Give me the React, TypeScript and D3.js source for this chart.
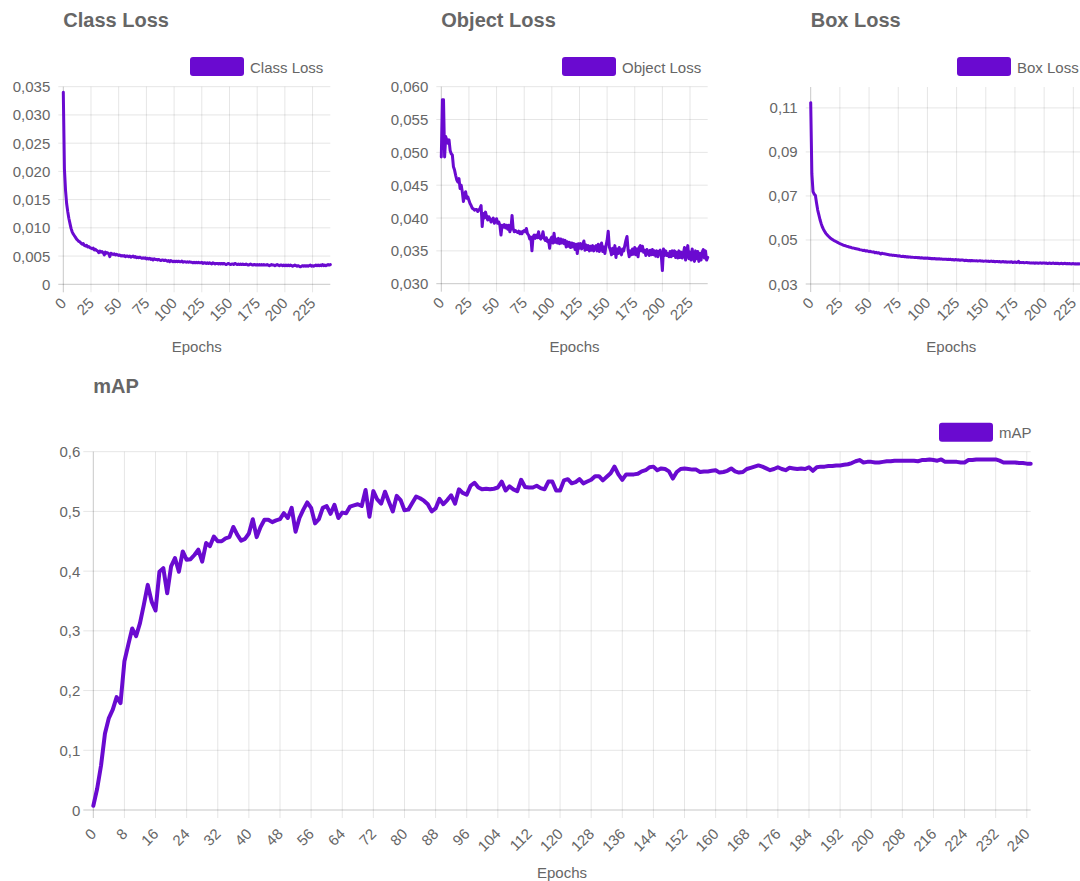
import React from "react";
import * as d3 from "d3";

// ---------- DATA (one value per epoch, epochs 0..241) ----------
const classLoss: number[] = [
  0.0340, 0.0205, 0.0167, 0.0143, 0.0129, 0.0117, 0.0108, 0.0099, 0.0093, 0.0089,
  0.0086, 0.0083, 0.0080, 0.0078, 0.0076, 0.0075, 0.0073, 0.0071, 0.0072, 0.0069,
  0.0068, 0.0069, 0.0066, 0.0067, 0.0065, 0.0064, 0.0063, 0.0064, 0.0061, 0.0062,
  0.0060, 0.0059, 0.0056, 0.0059, 0.0057, 0.0058, 0.0056, 0.0052, 0.0057, 0.0055,
  0.0056, 0.0054, 0.0049, 0.0055, 0.0054, 0.0053, 0.0054, 0.0052, 0.0053, 0.0052,
  0.0051, 0.0052, 0.0050, 0.0051, 0.0050, 0.0051, 0.0049, 0.0050, 0.0050, 0.0049,
  0.0050, 0.0048, 0.0049, 0.0050, 0.0048, 0.0049, 0.0047, 0.0048, 0.0047, 0.0048,
  0.0047, 0.0046, 0.0047, 0.0046, 0.0047, 0.0045, 0.0046, 0.0045, 0.0046, 0.0044,
  0.0045, 0.0043, 0.0045, 0.0044, 0.0044, 0.0043, 0.0044, 0.0043, 0.0042, 0.0043,
  0.0043, 0.0042, 0.0043, 0.0042, 0.0041, 0.0042, 0.0040, 0.0042, 0.0041, 0.0040,
  0.0041, 0.0040, 0.0041, 0.0040, 0.0041, 0.0040, 0.0040, 0.0041, 0.0039, 0.0040,
  0.0040, 0.0039, 0.0040, 0.0039, 0.0040, 0.0039, 0.0039, 0.0038, 0.0039, 0.0038,
  0.0039, 0.0038, 0.0039, 0.0038, 0.0038, 0.0039, 0.0037, 0.0038, 0.0038, 0.0037,
  0.0038, 0.0037, 0.0038, 0.0037, 0.0036, 0.0038, 0.0037, 0.0036, 0.0037, 0.0037,
  0.0036, 0.0037, 0.0036, 0.0037, 0.0036, 0.0037, 0.0036, 0.0035, 0.0036, 0.0037,
  0.0036, 0.0035, 0.0036, 0.0036, 0.0035, 0.0037, 0.0036, 0.0035, 0.0036, 0.0035,
  0.0036, 0.0035, 0.0036, 0.0035, 0.0035, 0.0036, 0.0035, 0.0034, 0.0035, 0.0036,
  0.0035, 0.0034, 0.0035, 0.0035, 0.0034, 0.0035, 0.0034, 0.0035, 0.0034, 0.0035,
  0.0034, 0.0035, 0.0034, 0.0034, 0.0035, 0.0034, 0.0033, 0.0034, 0.0035, 0.0034,
  0.0034, 0.0033, 0.0034, 0.0035, 0.0034, 0.0033, 0.0034, 0.0034, 0.0033, 0.0034,
  0.0033, 0.0034, 0.0033, 0.0034, 0.0033, 0.0034, 0.0033, 0.0032, 0.0033, 0.0034,
  0.0033, 0.0032, 0.0033, 0.0032, 0.0031, 0.0032, 0.0033, 0.0032, 0.0033, 0.0032,
  0.0033, 0.0032, 0.0033, 0.0034, 0.0032, 0.0033, 0.0032, 0.0033, 0.0034, 0.0033,
  0.0034, 0.0033, 0.0034, 0.0033, 0.0035, 0.0033, 0.0034, 0.0033, 0.0034, 0.0035,
  0.0034, 0.0035,
];

const objectLoss: number[] = [
  0.0493, 0.0580, 0.0580, 0.0493, 0.0524, 0.0519, 0.0514, 0.0519, 0.0503, 0.0498,
  0.0496, 0.0478, 0.0473, 0.0465, 0.0458, 0.0455, 0.0460, 0.0445, 0.0450, 0.0440,
  0.0425, 0.0435, 0.0440, 0.0430, 0.0432, 0.0427, 0.0422, 0.0419, 0.0415, 0.0414,
  0.0412, 0.0413, 0.0413, 0.0410, 0.0412, 0.0415, 0.0419, 0.0387, 0.0407, 0.0400,
  0.0409, 0.0402, 0.0397, 0.0402, 0.0399, 0.0394, 0.0397, 0.0400, 0.0392, 0.0395,
  0.0399, 0.0392, 0.0394, 0.0389, 0.0374, 0.0389, 0.0386, 0.0390, 0.0385, 0.0389,
  0.0383, 0.0389, 0.0379, 0.0384, 0.0404, 0.0384, 0.0379, 0.0381, 0.0379, 0.0378,
  0.0380, 0.0376, 0.0379, 0.0376, 0.0380, 0.0381, 0.0379, 0.0384, 0.0376, 0.0374,
  0.0368, 0.0371, 0.0350, 0.0371, 0.0374, 0.0369, 0.0374, 0.0370, 0.0379, 0.0370,
  0.0368, 0.0371, 0.0379, 0.0369, 0.0366, 0.0370, 0.0364, 0.0366, 0.0354, 0.0368,
  0.0371, 0.0362, 0.0377, 0.0363, 0.0368, 0.0362, 0.0369, 0.0361, 0.0368, 0.0362,
  0.0367, 0.0361, 0.0366, 0.0356, 0.0364, 0.0357, 0.0363, 0.0355, 0.0362, 0.0356,
  0.0361, 0.0352, 0.0360, 0.0346, 0.0361, 0.0354, 0.0361, 0.0353, 0.0360, 0.0365,
  0.0351, 0.0359, 0.0352, 0.0358, 0.0350, 0.0357, 0.0351, 0.0358, 0.0350, 0.0356,
  0.0358, 0.0350, 0.0360, 0.0349, 0.0357, 0.0362, 0.0349, 0.0356, 0.0346, 0.0358,
  0.0366, 0.0380, 0.0356, 0.0351, 0.0344, 0.0354, 0.0346, 0.0358, 0.0340, 0.0353,
  0.0346, 0.0355, 0.0347, 0.0344, 0.0353, 0.0350, 0.0358, 0.0366, 0.0372, 0.0351,
  0.0341, 0.0350, 0.0344, 0.0353, 0.0345, 0.0355, 0.0344, 0.0353, 0.0341, 0.0355,
  0.0358, 0.0350, 0.0357, 0.0348, 0.0351, 0.0343, 0.0352, 0.0349, 0.0343, 0.0351,
  0.0344, 0.0352, 0.0344, 0.0350, 0.0342, 0.0350, 0.0341, 0.0349, 0.0351, 0.0343,
  0.0320, 0.0353, 0.0343, 0.0350, 0.0343, 0.0346, 0.0341, 0.0349, 0.0341, 0.0350,
  0.0343, 0.0350, 0.0340, 0.0348, 0.0339, 0.0350, 0.0340, 0.0348, 0.0339, 0.0346,
  0.0355, 0.0336, 0.0350, 0.0358, 0.0338, 0.0348, 0.0336, 0.0353, 0.0340, 0.0334,
  0.0350, 0.0338, 0.0349, 0.0334, 0.0346, 0.0336, 0.0348, 0.0352, 0.0339, 0.0350,
  0.0336, 0.0340,
];

const boxLoss: number[] = [
  0.1124, 0.0800, 0.0720, 0.0708, 0.0703, 0.0668, 0.0636, 0.0614, 0.0592, 0.0574,
  0.0559, 0.0548, 0.0539, 0.0530, 0.0524, 0.0518, 0.0513, 0.0508, 0.0504, 0.0501,
  0.0497, 0.0495, 0.0492, 0.0489, 0.0486, 0.0483, 0.0481, 0.0479, 0.0476, 0.0475,
  0.0473, 0.0471, 0.0470, 0.0468, 0.0467, 0.0465, 0.0464, 0.0463, 0.0461, 0.0460,
  0.0459, 0.0458, 0.0456, 0.0455, 0.0454, 0.0452, 0.0453, 0.0450, 0.0451, 0.0449,
  0.0447, 0.0449, 0.0446, 0.0445, 0.0446, 0.0442, 0.0444, 0.0441, 0.0442, 0.0440,
  0.0436, 0.0440, 0.0438, 0.0437, 0.0436, 0.0435, 0.0434, 0.0433, 0.0432, 0.0432,
  0.0430, 0.0431, 0.0429, 0.0430, 0.0428, 0.0427, 0.0428, 0.0426, 0.0425, 0.0426,
  0.0424, 0.0425, 0.0423, 0.0424, 0.0422, 0.0423, 0.0421, 0.0422, 0.0421, 0.0420,
  0.0421, 0.0420, 0.0419, 0.0420, 0.0418, 0.0419, 0.0418, 0.0417, 0.0418, 0.0417,
  0.0418, 0.0416, 0.0417, 0.0415, 0.0416, 0.0415, 0.0416, 0.0414, 0.0415, 0.0414,
  0.0415, 0.0413, 0.0414, 0.0412, 0.0413, 0.0412, 0.0413, 0.0411, 0.0412, 0.0411,
  0.0412, 0.0410, 0.0411, 0.0409, 0.0411, 0.0410, 0.0409, 0.0410, 0.0408, 0.0409,
  0.0409, 0.0408, 0.0406, 0.0408, 0.0407, 0.0406, 0.0407, 0.0405, 0.0407, 0.0406,
  0.0406, 0.0405, 0.0406, 0.0404, 0.0405, 0.0406, 0.0404, 0.0405, 0.0403, 0.0404,
  0.0405, 0.0403, 0.0404, 0.0402, 0.0403, 0.0404, 0.0402, 0.0403, 0.0401, 0.0402,
  0.0402, 0.0401, 0.0402, 0.0400, 0.0401, 0.0402, 0.0400, 0.0401, 0.0399, 0.0400,
  0.0400, 0.0399, 0.0401, 0.0398, 0.0399, 0.0400, 0.0398, 0.0399, 0.0403, 0.0397,
  0.0398, 0.0397, 0.0398, 0.0396, 0.0397, 0.0398, 0.0396, 0.0397, 0.0395, 0.0396,
  0.0395, 0.0396, 0.0394, 0.0396, 0.0395, 0.0394, 0.0395, 0.0396, 0.0394, 0.0395,
  0.0395, 0.0394, 0.0395, 0.0393, 0.0394, 0.0395, 0.0393, 0.0394, 0.0395, 0.0393,
  0.0394, 0.0393, 0.0394, 0.0392, 0.0393, 0.0394, 0.0392, 0.0393, 0.0394, 0.0392,
  0.0393, 0.0392, 0.0393, 0.0391, 0.0392, 0.0393, 0.0391, 0.0392, 0.0391, 0.0392,
  0.0391, 0.0392, 0.0390, 0.0391, 0.0392, 0.0390, 0.0391, 0.0390, 0.0391, 0.0390,
  0.0389, 0.0390,
];

const mAP: number[] = [
  0.007, 0.036, 0.075, 0.128, 0.154, 0.168, 0.189, 0.179, 0.249, 0.277,
  0.304, 0.291, 0.313, 0.344, 0.377, 0.349, 0.334, 0.399, 0.405, 0.363,
  0.408, 0.422, 0.399, 0.433, 0.419, 0.420, 0.427, 0.436, 0.416, 0.447,
  0.442, 0.458, 0.450, 0.450, 0.455, 0.457, 0.474, 0.461, 0.451, 0.454,
  0.463, 0.487, 0.457, 0.474, 0.486, 0.486, 0.482, 0.485, 0.487, 0.497,
  0.489, 0.506, 0.466, 0.489, 0.503, 0.515, 0.506, 0.480, 0.487, 0.506,
  0.509, 0.496, 0.511, 0.489, 0.498, 0.497, 0.508, 0.510, 0.512, 0.509,
  0.536, 0.491, 0.534, 0.520, 0.513, 0.533, 0.516, 0.500, 0.526, 0.519,
  0.502, 0.503, 0.514, 0.525, 0.522, 0.518, 0.512, 0.500, 0.505, 0.521,
  0.512, 0.519, 0.527, 0.513, 0.537, 0.531, 0.528, 0.543, 0.548, 0.540,
  0.537, 0.538, 0.537, 0.538, 0.540, 0.550, 0.535, 0.542, 0.537, 0.534,
  0.553, 0.541, 0.540, 0.540, 0.543, 0.539, 0.537, 0.550, 0.550, 0.535,
  0.535, 0.552, 0.554, 0.547, 0.549, 0.554, 0.547, 0.550, 0.553, 0.559,
  0.559, 0.552, 0.558, 0.564, 0.575, 0.562, 0.553, 0.562, 0.562, 0.562,
  0.563, 0.567, 0.569, 0.574, 0.575, 0.569, 0.572, 0.571, 0.567, 0.555,
  0.566, 0.571, 0.572, 0.571, 0.570, 0.570, 0.566, 0.567, 0.567, 0.568,
  0.569, 0.565, 0.566, 0.568, 0.572, 0.567, 0.565, 0.566, 0.571, 0.573,
  0.575, 0.577, 0.575, 0.572, 0.569, 0.571, 0.574, 0.571, 0.569, 0.573,
  0.572, 0.571, 0.572, 0.571, 0.574, 0.568, 0.574, 0.575, 0.575, 0.576,
  0.576, 0.577, 0.577, 0.578, 0.579, 0.581, 0.584, 0.586, 0.582, 0.583,
  0.583, 0.582, 0.582, 0.583, 0.584, 0.584, 0.585, 0.585, 0.585, 0.585,
  0.585, 0.585, 0.584, 0.586, 0.586, 0.587, 0.586, 0.585, 0.587, 0.583,
  0.583, 0.583, 0.583, 0.582, 0.582, 0.586, 0.586, 0.587, 0.587, 0.587,
  0.587, 0.587, 0.587, 0.585, 0.582, 0.582, 0.582, 0.582, 0.581, 0.581,
  0.580, 0.580,
];

// tick values
const lossXTicks = [0, 25, 50, 75, 100, 125, 150, 175, 200, 225];
const mapXTicks = [0, 8, 16, 24, 32, 40, 48, 56, 64, 72, 80, 88, 96, 104, 112, 120, 128, 136, 144, 152, 160, 168, 176, 184, 192, 200, 208, 216, 224, 232, 240];
const classYTicks = [0, 0.005, 0.01, 0.015, 0.02, 0.025, 0.03, 0.035];
const objectYTicks = [0.03, 0.035, 0.04, 0.045, 0.05, 0.055, 0.06];
const boxYTicks = [0.03, 0.05, 0.07, 0.09, 0.11];
const mapYTicks = [0, 0.1, 0.2, 0.3, 0.4, 0.5, 0.6];

const FONT = "'Liberation Sans', Arial, Helvetica, sans-serif";
const LINE_COLOR = "#6a0ad0";
const TEXT = "#666";
const GRID = "rgba(0,0,0,0.1)";
const AXIS = "rgba(0,0,0,0.22)";

const comma = (f: (n: number) => string) => (v: number) => f(v).replace(".", ",");

type ChartProps = {
  title: string;
  label: string;
  values: number[];
  left: number;
  right: number;
  top: number;
  bottom: number;
  yDomain: [number, number];
  yTicks: number[];
  xTicks: number[];
  yFmt: (v: number) => string;
  titleY: number;
  legendX: number;
  legendY: number;
  lineWidth: number;
  xLabelOffset: number;
  epochsY: number;
  yTickLen: number;
};

function LineChart(p: ChartProps) {
  const x = d3.scaleLinear().domain([0, p.values.length - 1]).range([p.left, p.right]);
  const y = d3.scaleLinear().domain(p.yDomain).range([p.bottom, p.top]);
  const line = d3
    .line<number>()
    .x((_, i) => x(i))
    .y((d) => y(d))
    .curve(d3.curveLinear);
  const yMin = p.yTicks[0];
  return (
    <g fontFamily={FONT}>
      <text x={p.left} y={p.titleY} fontSize={20} fontWeight="bold" fill={TEXT}>
        {p.title}
      </text>
      <rect x={p.legendX} y={p.legendY} width={54} height={19} rx={3} fill={LINE_COLOR} />
      <text x={p.legendX + 60} y={p.legendY + 10} fontSize={15} fill={TEXT} dominantBaseline="central">
        {p.label}
      </text>
      {p.yTicks.map((t) => (
        <line
          key={"h" + t}
          x1={p.left - p.yTickLen}
          x2={p.right}
          y1={y(t)}
          y2={y(t)}
          stroke={t === yMin ? AXIS : GRID}
          strokeWidth={1}
        />
      ))}
      {p.xTicks.map((t) => (
        <line
          key={"v" + t}
          x1={x(t)}
          x2={x(t)}
          y1={p.top}
          y2={p.bottom + 8}
          stroke={t === 0 ? AXIS : GRID}
          strokeWidth={1}
        />
      ))}
      {p.yTicks.map((t) => (
        <text
          key={"yl" + t}
          x={p.left - 13}
          y={y(t)}
          fontSize={15}
          fill={TEXT}
          textAnchor="end"
          dominantBaseline="central"
        >
          {p.yFmt(t)}
        </text>
      ))}
      {p.xTicks.map((t) => (
        <text
          key={"xl" + t}
          transform={`translate(${x(t)},${p.bottom + p.xLabelOffset}) rotate(-45)`}
          fontSize={15}
          fill={TEXT}
          textAnchor="end"
          dominantBaseline="central"
        >
          {t}
        </text>
      ))}
      <text x={(p.left + p.right) / 2} y={p.epochsY} fontSize={15} fill={TEXT} textAnchor="middle">
        Epochs
      </text>
      <path
        d={line(p.values) || ""}
        fill="none"
        stroke={LINE_COLOR}
        strokeWidth={p.lineWidth}
        strokeLinejoin="round"
        strokeLinecap="round"
      />
    </g>
  );
}

export default function App() {
  return (
    <svg
      width={1080}
      height={881}
      style={{ position: "absolute", left: 0, top: 0, background: "#fff", overflow: "hidden" }}
    >
      <rect x={0} y={0} width={1080} height={881} fill="#fff" />
      <LineChart
        title="Class Loss"
        label="Class Loss"
        values={classLoss}
        left={63.3}
        right={330.3}
        top={86.7}
        bottom={284.3}
        yDomain={[0, 0.035]}
        yTicks={classYTicks}
        xTicks={lossXTicks}
        yFmt={(v) => (v === 0 ? "0" : comma(d3.format(".3f"))(v))}
        titleY={27}
        legendX={190}
        legendY={57}
        lineWidth={3}
        xLabelOffset={16}
        epochsY={352}
        yTickLen={5}
      />
      <LineChart
        title="Object Loss"
        label="Object Loss"
        values={objectLoss}
        left={441.3}
        right={707.7}
        top={86.7}
        bottom={283.7}
        yDomain={[0.03, 0.06]}
        yTicks={objectYTicks}
        xTicks={lossXTicks}
        yFmt={comma(d3.format(".3f"))}
        titleY={27}
        legendX={562}
        legendY={57}
        lineWidth={3}
        xLabelOffset={16}
        epochsY={352}
        yTickLen={5}
      />
      <LineChart
        title="Box Loss"
        label="Box Loss"
        values={boxLoss}
        left={810.7}
        right={1092}
        top={87}
        bottom={284}
        yDomain={[0.03, 0.1195]}
        yTicks={boxYTicks}
        xTicks={lossXTicks}
        yFmt={comma(d3.format(".2f"))}
        titleY={27}
        legendX={957}
        legendY={57}
        lineWidth={3}
        xLabelOffset={16}
        epochsY={352}
        yTickLen={5}
      />
      <LineChart
        title="mAP"
        label="mAP"
        values={mAP}
        left={93.3}
        right={1030.7}
        top={451.7}
        bottom={810}
        yDomain={[0, 0.6]}
        yTicks={mapYTicks}
        xTicks={mapXTicks}
        yFmt={(v) => (v === 0 ? "0" : comma(d3.format(".1f"))(v))}
        titleY={393}
        legendX={939}
        legendY={422.7}
        lineWidth={4}
        xLabelOffset={21}
        epochsY={878}
        yTickLen={10}
      />
    </svg>
  );
}
